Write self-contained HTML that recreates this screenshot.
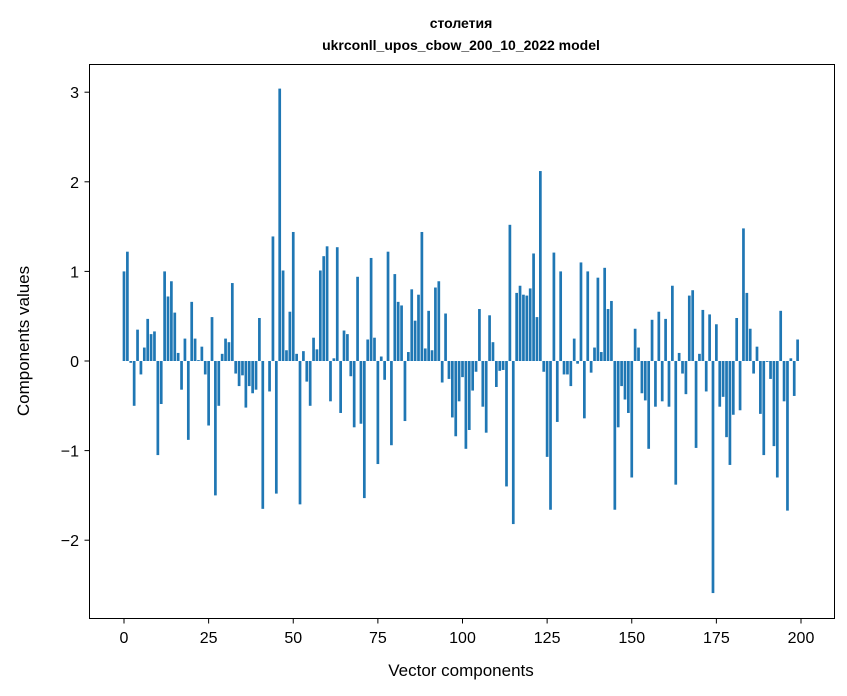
<!DOCTYPE html>
<html><head><meta charset="utf-8"><style>
body{margin:0;background:#fff;}
svg{display:block;font-family:"Liberation Sans","DejaVu Sans",sans-serif;}
</style></head><body>
<svg id="chart" width="847" height="696" viewBox="0 0 847 696">
<rect width="847" height="696" fill="#fff"/>
<text x="461" y="28" text-anchor="middle" font-size="14" font-weight="bold">столетия</text>
<text x="461" y="50" text-anchor="middle" font-size="14" font-weight="bold">ukrconll_upos_cbow_200_10_2022 model</text>
<g id="bars"></g>
<g id="xticks"></g>
<g id="yticks"></g>
<rect x="89.5" y="64.5" width="745" height="554" fill="none" stroke="#000" stroke-width="1"/>
<text x="461" y="676" text-anchor="middle" font-size="17">Vector components</text>
<text transform="translate(29,341) rotate(-90)" text-anchor="middle" font-size="17">Components values</text>
</svg>
<script>
const values = [1.0,1.22,-0.02,-0.5,0.35,-0.15,0.15,0.47,0.3,0.33,-1.05,-0.48,1.0,0.72,0.89,0.54,0.09,-0.32,0.25,-0.88,0.66,0.25,0.01,0.16,-0.15,-0.72,0.49,-1.5,-0.5,0.08,0.25,0.21,0.87,-0.14,-0.28,-0.16,-0.52,-0.28,-0.36,-0.32,0.48,-1.65,0.0,-0.34,1.39,-1.48,3.04,1.01,0.12,0.55,1.44,0.08,-1.6,0.11,-0.23,-0.5,0.26,0.13,1.01,1.17,1.28,-0.45,0.03,1.27,-0.58,0.34,0.3,-0.17,-0.74,0.94,-0.7,-1.53,0.24,1.15,0.26,-1.15,0.05,-0.21,1.22,-0.94,0.97,0.66,0.62,-0.67,0.1,0.8,0.45,0.74,1.44,0.14,0.56,0.12,0.82,0.89,-0.24,0.53,-0.2,-0.63,-0.84,-0.45,-0.18,-0.98,-0.77,-0.33,-0.12,0.58,-0.51,-0.8,0.51,0.21,-0.29,-0.11,-0.1,-1.4,1.52,-1.82,0.76,0.84,0.74,0.73,0.81,1.2,0.49,2.12,-0.12,-1.07,-1.66,1.21,-0.68,1.0,-0.15,-0.15,-0.28,0.25,-0.03,1.1,-0.64,1.0,-0.13,0.15,0.93,0.1,1.04,0.58,0.67,-1.66,-0.74,-0.28,-0.43,-0.58,-1.3,0.36,0.15,-0.36,-0.44,-0.98,0.46,-0.51,0.55,-0.45,0.47,-0.51,0.84,-1.38,0.09,-0.14,-0.37,0.73,0.79,-0.97,0.08,0.57,-0.34,0.52,-2.59,0.41,-0.51,-0.4,-0.85,-1.16,-0.6,0.48,-0.55,1.48,0.76,0.36,-0.14,0.16,-0.59,-1.05,-0.01,-0.2,-0.95,-1.3,0.56,-0.45,-1.67,0.03,-0.39,0.24];
const xTickValues = [0,25,50,75,100,125,150,175,200];
const yTickValues = [-2,-1,0,1,2,3];
const yTickLabels = ["\u22122","\u22121","0","1","2","3"];

const NS="http://www.w3.org/2000/svg";
function xScale(v){return 124 + v*(801-124)/200;}
function yScale(v){return 361 - v*89.6;}
const barW = 0.8*(801-124)/200;
const bars=document.getElementById('bars');
values.forEach((v,i)=>{
  const r=document.createElementNS(NS,'rect');
  const y0=yScale(0), y1=yScale(v);
  r.setAttribute('x',xScale(i)-barW/2);
  r.setAttribute('y',Math.min(y0,y1));
  r.setAttribute('width',barW);
  r.setAttribute('height',Math.abs(y1-y0));
  r.setAttribute('fill','#1f77b4');
  
  
  bars.appendChild(r);
});
const xg=document.getElementById('xticks');
xTickValues.forEach(t=>{
  const x=xScale(t);
  const l=document.createElementNS(NS,'line');
  l.setAttribute('x1',x);l.setAttribute('x2',x);l.setAttribute('y1',618.5);l.setAttribute('y2',623.5);l.setAttribute('stroke','#000');
  
  
  xg.appendChild(l);
  const tx=document.createElementNS(NS,'text');
  tx.setAttribute('x',x);tx.setAttribute('y',643);tx.setAttribute('text-anchor','middle');tx.setAttribute('font-size','16');
  tx.textContent=t;
  
  
  xg.appendChild(tx);
});
const yg=document.getElementById('yticks');
yTickValues.forEach((t,i)=>{
  const y=yScale(t);
  const l=document.createElementNS(NS,'line');
  l.setAttribute('x1',84.5);l.setAttribute('x2',89.5);l.setAttribute('y1',y);l.setAttribute('y2',y);l.setAttribute('stroke','#000');
  
  
  yg.appendChild(l);
  const tx=document.createElementNS(NS,'text');
  tx.setAttribute('x',79);tx.setAttribute('y',y+6);tx.setAttribute('text-anchor','end');tx.setAttribute('font-size','16');
  tx.textContent=yTickLabels[i];
  
  
  yg.appendChild(tx);
});
</script>
</body></html>
